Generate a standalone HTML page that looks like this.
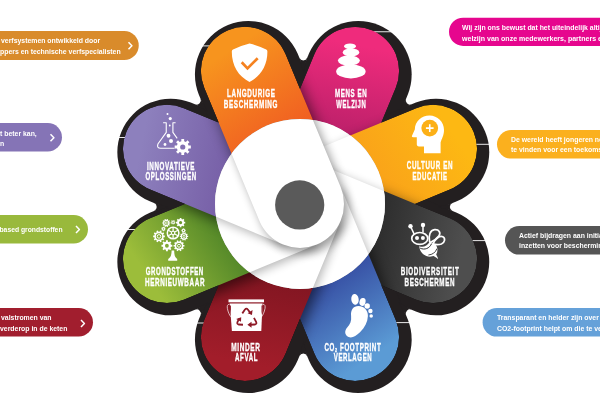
<!DOCTYPE html>
<html><head><meta charset="utf-8"><title>Duurzaamheid</title>
<style>
html,body{margin:0;padding:0;background:#fff;}
body{width:600px;height:400px;overflow:hidden;font-family:"Liberation Sans",sans-serif;}
svg{display:block;}
text{font-family:"Liberation Sans",sans-serif;font-weight:bold;fill:#fff;}
</style></head><body>
<svg width="600" height="400" viewBox="0 0 600 400">
<defs><linearGradient id="g_pink" gradientUnits="userSpaceOnUse" x1="365.2" y1="46.5" x2="338.3" y2="178.8"><stop offset="0" stop-color="#ef2b7c"/><stop offset="1" stop-color="#a31b61"/></linearGradient>
<linearGradient id="g_yellow" gradientUnits="userSpaceOnUse" x1="457.4" y1="138.7" x2="344.9" y2="213.2"><stop offset="0" stop-color="#fdb813"/><stop offset="1" stop-color="#f8981d"/></linearGradient>
<linearGradient id="g_dark" gradientUnits="userSpaceOnUse" x1="457.4" y1="269.1" x2="325.1" y2="242.2"><stop offset="0" stop-color="#4e4e4e"/><stop offset="1" stop-color="#1b1b1b"/></linearGradient>
<linearGradient id="g_blue" gradientUnits="userSpaceOnUse" x1="365.2" y1="361.3" x2="290.7" y2="248.8"><stop offset="0" stop-color="#5b9bd5"/><stop offset="1" stop-color="#24288a"/></linearGradient>
<linearGradient id="g_red" gradientUnits="userSpaceOnUse" x1="234.8" y1="361.3" x2="261.7" y2="229.0"><stop offset="0" stop-color="#a21d2a"/><stop offset="1" stop-color="#72121d"/></linearGradient>
<linearGradient id="g_green" gradientUnits="userSpaceOnUse" x1="142.6" y1="269.1" x2="255.1" y2="194.6"><stop offset="0" stop-color="#9cbd3a"/><stop offset="1" stop-color="#2b6a1f"/></linearGradient>
<linearGradient id="g_purple" gradientUnits="userSpaceOnUse" x1="142.6" y1="138.7" x2="274.9" y2="165.6"><stop offset="0" stop-color="#8d80bd"/><stop offset="1" stop-color="#6c4f9c"/></linearGradient>
<linearGradient id="g_orange" gradientUnits="userSpaceOnUse" x1="234.8" y1="46.5" x2="309.3" y2="159.0"><stop offset="0" stop-color="#f7941e"/><stop offset="1" stop-color="#ee4e23"/></linearGradient>
<clipPath id="cp_union"><path d="M259.35,187.06 L314.46,54.02 A44.00,44.00 0 0 1 395.76,87.70 L340.65,220.74 Z"/><path d="M283.16,163.25 L416.20,108.14 A44.00,44.00 0 0 1 449.88,189.44 L316.84,244.55 Z"/><path d="M316.84,163.25 L449.88,218.36 A44.00,44.00 0 0 1 416.20,299.66 L283.16,244.55 Z"/><path d="M340.65,187.06 L395.76,320.10 A44.00,44.00 0 0 1 314.46,353.78 L259.35,220.74 Z"/><path d="M340.65,220.74 L285.54,353.78 A44.00,44.00 0 0 1 204.24,320.10 L259.35,187.06 Z"/><path d="M316.84,244.55 L183.80,299.66 A44.00,44.00 0 0 1 150.12,218.36 L283.16,163.25 Z"/><path d="M283.16,244.55 L150.12,189.44 A44.00,44.00 0 0 1 183.80,108.14 L316.84,163.25 Z"/><path d="M259.35,220.74 L204.24,87.70 A44.00,44.00 0 0 1 285.54,54.02 L340.65,187.06 Z"/></clipPath>
<filter id="pbl" x="-50%" y="-50%" width="200%" height="200%"><feGaussianBlur stdDeviation="7"/></filter>
<clipPath id="cp_white"><circle cx="300.0" cy="203.9" r="85.0"/></clipPath>
<filter id="bl" x="-50%" y="-50%" width="200%" height="200%"><feGaussianBlur stdDeviation="5"/></filter>
<filter id="bl2" x="-50%" y="-50%" width="200%" height="200%"><feGaussianBlur stdDeviation="4"/></filter></defs>
<g fill="#231f20" transform="translate(3.3,3.1)"><path d="M250.57,183.43 L305.68,50.39 A53.50,53.50 0 0 1 404.53,91.33 L349.43,224.37 Z"/><path d="M279.53,154.47 L412.57,99.37 A53.50,53.50 0 0 1 453.51,198.22 L320.47,253.33 Z"/><path d="M320.47,154.47 L453.51,209.58 A53.50,53.50 0 0 1 412.57,308.43 L279.53,253.33 Z"/><path d="M349.43,183.43 L404.53,316.47 A53.50,53.50 0 0 1 305.68,357.41 L250.57,224.37 Z"/><path d="M349.43,224.37 L294.32,357.41 A53.50,53.50 0 0 1 195.47,316.47 L250.57,183.43 Z"/><path d="M320.47,253.33 L187.43,308.43 A53.50,53.50 0 0 1 146.49,209.58 L279.53,154.47 Z"/><path d="M279.53,253.33 L146.49,198.22 A53.50,53.50 0 0 1 187.43,99.37 L320.47,154.47 Z"/><path d="M250.57,224.37 L195.47,91.33 A53.50,53.50 0 0 1 294.32,50.39 L349.43,183.43 Z"/><path d="M434.80,203.90 L449.17,200.02 A4.20,4.20 0 0 0 449.17,207.78 Z"/><path d="M395.32,299.22 L408.22,306.64 A4.20,4.20 0 0 0 402.74,312.12 Z"/><path d="M300.00,338.70 L303.88,353.07 A4.20,4.20 0 0 0 296.12,353.07 Z"/><path d="M204.68,299.22 L197.26,312.12 A4.20,4.20 0 0 0 191.78,306.64 Z"/><path d="M165.20,203.90 L150.83,207.78 A4.20,4.20 0 0 0 150.83,200.02 Z"/><path d="M204.68,108.58 L191.78,101.16 A4.20,4.20 0 0 0 197.26,95.68 Z"/><path d="M300.00,69.10 L296.12,54.73 A4.20,4.20 0 0 0 303.88,54.73 Z"/><path d="M395.32,108.58 L402.74,95.68 A4.20,4.20 0 0 0 408.22,101.16 Z"/></g>
<g stroke="#ffffff" stroke-width="0.9" fill="none"><path d="M130,45.9 H215 M55,137.5 H135 M80,229.5 H145 M85,323 H215 M455,31.75 H368 M500,144.3 H468 M510,240.6 H462 M490,322.6 H388"/></g>
<g clip-path="url(#cp_union)"><path d="M259.35,187.06 L314.46,54.02 A44.00,44.00 0 0 1 395.76,87.70 L340.65,220.74 Z" fill="url(#g_pink)"/><path d="M283.16,163.25 L416.20,108.14 A44.00,44.00 0 0 1 449.88,189.44 L316.84,244.55 Z" fill="#000" opacity="0.55" filter="url(#pbl)" transform="translate(4,5)"/><path d="M283.16,163.25 L416.20,108.14 A44.00,44.00 0 0 1 449.88,189.44 L316.84,244.55 Z" fill="url(#g_yellow)"/><path d="M316.84,163.25 L449.88,218.36 A44.00,44.00 0 0 1 416.20,299.66 L283.16,244.55 Z" fill="#000" opacity="0.55" filter="url(#pbl)" transform="translate(4,5)"/><path d="M316.84,163.25 L449.88,218.36 A44.00,44.00 0 0 1 416.20,299.66 L283.16,244.55 Z" fill="url(#g_dark)"/><path d="M340.65,187.06 L395.76,320.10 A44.00,44.00 0 0 1 314.46,353.78 L259.35,220.74 Z" fill="#000" opacity="0.55" filter="url(#pbl)" transform="translate(4,5)"/><path d="M340.65,187.06 L395.76,320.10 A44.00,44.00 0 0 1 314.46,353.78 L259.35,220.74 Z" fill="url(#g_blue)"/><path d="M340.65,220.74 L285.54,353.78 A44.00,44.00 0 0 1 204.24,320.10 L259.35,187.06 Z" fill="#000" opacity="0.55" filter="url(#pbl)" transform="translate(4,5)"/><path d="M340.65,220.74 L285.54,353.78 A44.00,44.00 0 0 1 204.24,320.10 L259.35,187.06 Z" fill="url(#g_red)"/><path d="M316.84,244.55 L183.80,299.66 A44.00,44.00 0 0 1 150.12,218.36 L283.16,163.25 Z" fill="#000" opacity="0.55" filter="url(#pbl)" transform="translate(4,5)"/><path d="M316.84,244.55 L183.80,299.66 A44.00,44.00 0 0 1 150.12,218.36 L283.16,163.25 Z" fill="url(#g_green)"/><path d="M283.16,244.55 L150.12,189.44 A44.00,44.00 0 0 1 183.80,108.14 L316.84,163.25 Z" fill="#000" opacity="0.55" filter="url(#pbl)" transform="translate(4,5)"/><path d="M283.16,244.55 L150.12,189.44 A44.00,44.00 0 0 1 183.80,108.14 L316.84,163.25 Z" fill="url(#g_purple)"/><path d="M259.35,220.74 L204.24,87.70 A44.00,44.00 0 0 1 285.54,54.02 L340.65,187.06 Z" fill="#000" opacity="0.55" filter="url(#pbl)" transform="translate(4,5)"/><path d="M259.35,220.74 L204.24,87.70 A44.00,44.00 0 0 1 285.54,54.02 L340.65,187.06 Z" fill="url(#g_orange)"/></g>
<g clip-path="url(#cp_white)"><circle cx="300.0" cy="203.9" r="85.0" fill="#fff"/><path d="M259.35,187.06 L335.89,2.29 A44.00,44.00 0 0 1 417.19,35.96 L340.65,220.74 Z" fill="#000" opacity="0.28" filter="url(#bl)" transform="translate(2,3)"/><path d="M259.35,187.06 L335.89,2.29 A44.00,44.00 0 0 1 417.19,35.96 L340.65,220.74 Z" fill="#fff"/><path d="M283.16,163.25 L467.94,86.71 A44.00,44.00 0 0 1 501.61,168.01 L316.84,244.55 Z" fill="#000" opacity="0.28" filter="url(#bl)" transform="translate(2,3)"/><path d="M283.16,163.25 L467.94,86.71 A44.00,44.00 0 0 1 501.61,168.01 L316.84,244.55 Z" fill="#fff"/><path d="M316.84,163.25 L501.61,239.79 A44.00,44.00 0 0 1 467.94,321.09 L283.16,244.55 Z" fill="#000" opacity="0.28" filter="url(#bl)" transform="translate(2,3)"/><path d="M316.84,163.25 L501.61,239.79 A44.00,44.00 0 0 1 467.94,321.09 L283.16,244.55 Z" fill="#fff"/><path d="M340.65,187.06 L417.19,371.84 A44.00,44.00 0 0 1 335.89,405.51 L259.35,220.74 Z" fill="#000" opacity="0.28" filter="url(#bl)" transform="translate(2,3)"/><path d="M340.65,187.06 L417.19,371.84 A44.00,44.00 0 0 1 335.89,405.51 L259.35,220.74 Z" fill="#fff"/><path d="M340.65,220.74 L264.11,405.51 A44.00,44.00 0 0 1 182.81,371.84 L259.35,187.06 Z" fill="#000" opacity="0.28" filter="url(#bl)" transform="translate(2,3)"/><path d="M340.65,220.74 L264.11,405.51 A44.00,44.00 0 0 1 182.81,371.84 L259.35,187.06 Z" fill="#fff"/><path d="M316.84,244.55 L132.06,321.09 A44.00,44.00 0 0 1 98.39,239.79 L283.16,163.25 Z" fill="#000" opacity="0.28" filter="url(#bl)" transform="translate(2,3)"/><path d="M316.84,244.55 L132.06,321.09 A44.00,44.00 0 0 1 98.39,239.79 L283.16,163.25 Z" fill="#fff"/><path d="M283.16,244.55 L98.39,168.01 A44.00,44.00 0 0 1 132.06,86.71 L316.84,163.25 Z" fill="#000" opacity="0.28" filter="url(#bl)" transform="translate(2,3)"/><path d="M283.16,244.55 L98.39,168.01 A44.00,44.00 0 0 1 132.06,86.71 L316.84,163.25 Z" fill="#fff"/><path d="M259.35,220.74 L182.81,35.96 A44.00,44.00 0 0 1 264.11,2.29 L340.65,187.06 A44.00,44.00 0 0 1 259.35,220.74 Z" fill="#000" opacity="0.38" filter="url(#bl)" transform="translate(4,5)"/><path d="M259.35,220.74 L182.81,35.96 A44.00,44.00 0 0 1 264.11,2.29 L340.65,187.06 A44.00,44.00 0 0 1 259.35,220.74 Z" fill="#fff"/></g>
<circle cx="299.7" cy="204.9" r="24.6" fill="#5a5a5a"/>
<g>
<rect x="-20" y="31" width="158.75" height="29" rx="14.5" fill="#d98b2b"/>
<rect x="-20" y="123" width="82" height="28.5" rx="14.25" fill="#8574b6"/>
<rect x="-20" y="215" width="108" height="28.5" rx="14.25" fill="#99b93c"/>
<rect x="-20" y="308" width="113" height="28.5" rx="14.25" fill="#a11e2e"/>
<rect x="449" y="17.7" width="180" height="28.2" rx="14.1" fill="#e6068e"/>
<rect x="497" y="130" width="140" height="28.6" rx="14.3" fill="#fbb01e"/>
<rect x="505" y="226" width="140" height="28.6" rx="14.3" fill="#555555"/>
<rect x="482.6" y="308" width="160" height="28.6" rx="14.3" fill="#65a1d9"/>
<g fill="none" stroke="#fff" stroke-width="1.5" stroke-linecap="butt" stroke-linejoin="round">
<path d="M128.5,42.3 l3.4,3.5 l-3.4,3.5"/>
<path d="M50.5,134.3 l3.4,3.5 l-3.4,3.5"/>
<path d="M76,226 l3.4,3.5 l-3.4,3.5"/>
<path d="M81,320 l3.4,3.5 l-3.4,3.5"/>
</g>
<g font-size="6.9" opacity="0.999">
<text x="1" y="43">verfsystemen ontwikkeld door</text>
<text x="0" y="53.75">ppers en technische verfspecialisten</text>
<text x="0" y="135.75">t beter kan,</text>
<text x="0" y="145.5">n</text>
<text x="-0.5" y="232.3" font-size="6.75">based grondstoffen</text>
<text x="1" y="320.25">valstromen van</text>
<text x="0" y="330.5">verderop in de keten</text>
<text x="462" y="29.5">Wij zijn ons bewust dat het uiteindelijk altijd</text>
<text x="462" y="40.5" font-size="7.04">welzijn van onze medewerkers, partners en</text>
<text x="511" y="142">De wereld heeft jongeren nodig</text>
<text x="511" y="152">te vinden voor een toekomst</text>
<text x="519" y="238">Actief bijdragen aan initiatieven</text>
<text x="519" y="248.4">inzetten voor bescherming</text>
<text x="497" y="320.4">Transparant en helder zijn over onze</text>
<text x="497" y="330.8">CO2-footprint helpt om die te verlagen</text>
</g>
</g>

<path d="M249.5,43.6 Q258.5,45.8 266.2,49.6 Q267.4,50.1 267.4,51.6 C267.4,66 260.5,76.5 249.5,82 C238.5,76.5 231.8,66 231.8,51.6 Q231.8,50.1 233,49.6 Q240.5,45.8 249.5,43.6 Z" fill="#fff"/>
<path d="M241.7,62.3 L247.5,68.4 L257.7,58.2" fill="none" stroke="#f58220" stroke-width="2.7"/>
<ellipse cx="350.0" cy="46.3" rx="6.0" ry="2.9" fill="#fff"/>
<ellipse cx="351.0" cy="52.4" rx="8.3" ry="4.0" fill="#fff"/>
<ellipse cx="348.9" cy="60.6" rx="11.0" ry="5.1" fill="#fff"/>
<ellipse cx="350.9" cy="71.4" rx="14.7" ry="7.0" fill="#fff"/>
<path d="M429.5,115.6 C437.5,115.6 444,122 444,130 C444,135.5 441.5,139 440.6,142.5 L440.6,153.2 L424,153.2 L424,146.4 L419,146.4 C417.5,146.4 416.8,145.6 416.8,144.2 L416.8,137.2 L413,137.2 C412,137.2 411.6,136.4 412.1,135.5 L414.8,129.5 C415,121.5 421.5,115.6 429.5,115.6 Z" fill="#fff"/>
<circle cx="429.75" cy="128.10" r="8.40" fill="#fcb017"/>
<path d="M425.9,128.1 h7.7 M429.75,124.25 v7.7" stroke="#fff" stroke-width="1.6" fill="none"/>
<g fill="none" stroke="#fff" stroke-width="1.7" stroke-linecap="round"><path d="M410.5,226.2 L413.8,233.4 M423,225 L423,232" stroke-width="1.5"/><ellipse cx="419.75" cy="238.4" rx="8.0" ry="5.9"/><path d="M429.6,241.6 C428.3,235.5 430.2,230.2 434.6,229.7 C439,229.3 441.2,232.6 438.8,236 C436.6,239 433.2,241 430.2,242.6"/><path d="M433.2,243.4 C435.6,238.6 439.6,235.4 442.8,236.8 C445.6,238.2 445,242.4 441.4,244 C438.8,245 435.8,244.8 433.2,244.2"/></g><circle cx="410.50" cy="226.20" r="2.20" fill="#fff"/><circle cx="423.00" cy="225.00" r="2.20" fill="#fff"/><circle cx="417.00" cy="238.00" r="2.00" fill="#fff"/><circle cx="422.90" cy="238.00" r="2.00" fill="#fff"/><path d="M419.2,246 C419.8,252.6 424.6,257 431,256.6 L433.6,256 L438.4,259 L436.2,254.6 C438.2,251 438,246.4 434.4,243.4 L429.6,242 C427,246.2 423,247.8 419.4,246.2 Z" fill="#fff"/><path d="M420.2,248.2 C424.5,250.2 429.5,248.6 431.6,243.6" fill="none" stroke="#2d2d2d" stroke-width="1.0"/><path d="M428.4,255 C432.4,254.6 435.6,252.6 436.9,248.6" fill="none" stroke="#2d2d2d" stroke-width="0.9"/>
<path d="M358.5,306 C363.5,306 368.2,310 367.9,316 C367.6,322 365,327.5 360,332.3 C356,336.2 352,338.3 348.6,337 C344.6,335.4 344.2,331 347.2,327.6 C350.2,324.2 351.6,321 351.1,316 C350.5,310 353.2,306 358.5,306 Z" fill="#fff"/>
<ellipse cx="355" cy="299.4" rx="3.7" ry="5.4" fill="#fff" transform="rotate(-8 355 299.4)"/>
<ellipse cx="362.5" cy="301.9" rx="3.0" ry="4.0" fill="#fff" transform="rotate(15 362.5 301.9)"/>
<circle cx="367.20" cy="306.00" r="2.70" fill="#fff"/>
<circle cx="370.40" cy="311.00" r="2.20" fill="#fff"/>
<circle cx="371.20" cy="315.90" r="1.75" fill="#fff"/>
<rect x="228.5" y="299.4" width="35.5" height="2.9" fill="#fff"/>
<path d="M229.8,303.6 L262.5,303.6 L261.3,331 L231.9,331 Z" fill="#fff"/>
<path d="M229.6,304.2 C227.2,304.4 227,306 227.4,308.5 C228,312 229.5,315 230.8,316.8 M262.8,304.2 C265.2,304.4 265.4,306 265,308.5 C264.4,312 262.9,315 261.6,316.8" fill="none" stroke="#fff" stroke-width="0.7"/>
<path d="M229.4,305.5 L230.9,305.5 L230.9,315 Z M263,305.5 L261.5,305.5 L261.5,315 Z" fill="#8e1926"/>
<g transform="translate(246.6,317.8) scale(1.1,1.14) translate(-246.5,-316.5)"><g fill="none" stroke="#8e1926" stroke-width="1.6" stroke-linejoin="round">
<path d="M242.6,312.6 L245,309.2 Q246.3,307.6 247.6,309.2 L250,312.4"/>
<path d="M253.2,316.6 L255.2,320.2 Q256,322 254,322.4 L249.8,322.6"/>
<path d="M243.2,322.6 L239.4,322.4 Q237.4,322 238.2,320.2 L239.8,317.2"/>
</g>
<path d="M251.9,309.6 L251.4,314 L247.4,312.4 Z M251,319.9 L251,325.3 L247.2,322.6 Z M237,317.6 L241.6,316 L241.4,320 Z" fill="#8e1926"/></g>
<circle cx="173.10" cy="233.00" r="5.80" fill="none" stroke="#fff" stroke-width="1.50"/>
<circle cx="173.10" cy="233.00" r="1.70" fill="none" stroke="#fff" stroke-width="1.10"/>
<path d="M174.83,234.00 L177.86,235.75 M173.10,235.00 L173.10,238.50 M171.37,234.00 L168.34,235.75 M171.37,232.00 L168.34,230.25 M173.10,231.00 L173.10,227.50 M174.83,232.00 L177.86,230.25" stroke="#fff" stroke-width="1.25" fill="none"/>
<path d="M170.31,222.44 L170.31,223.56 L169.39,223.60 L169.15,224.36 L169.87,224.93 L169.20,225.84 L168.44,225.33 L167.79,225.80 L168.04,226.69 L166.97,227.04 L166.65,226.17 L165.85,226.17 L165.53,227.04 L164.46,226.69 L164.71,225.80 L164.06,225.33 L163.30,225.84 L162.63,224.93 L163.35,224.36 L163.11,223.60 L162.19,223.56 L162.19,222.44 L163.11,222.40 L163.35,221.64 L162.63,221.07 L163.30,220.16 L164.06,220.67 L164.71,220.20 L164.46,219.31 L165.53,218.96 L165.85,219.83 L166.65,219.83 L166.97,218.96 L168.04,219.31 L167.79,220.20 L168.44,220.67 L169.20,220.16 L169.87,221.07 L169.15,221.64 L169.39,222.40 Z M164.25,223.00 a2.00,2.00 0 1 0 4.00,0 a2.00,2.00 0 1 0 -4.00,0 Z" fill="#fff" fill-rule="evenodd"/>
<circle cx="166.25" cy="223.00" r="1.10" fill="none" stroke="#fff" stroke-width="0.80"/>
<path d="M175.37,221.85 L175.37,222.65 L174.66,222.62 L174.46,223.09 L174.98,223.57 L174.42,224.13 L173.94,223.61 L173.47,223.81 L173.50,224.52 L172.70,224.52 L172.73,223.81 L172.26,223.61 L171.78,224.13 L171.22,223.57 L171.74,223.09 L171.54,222.62 L170.83,222.65 L170.83,221.85 L171.54,221.88 L171.74,221.41 L171.22,220.93 L171.78,220.37 L172.26,220.89 L172.73,220.69 L172.70,219.98 L173.50,219.98 L173.47,220.69 L173.94,220.89 L174.42,220.37 L174.98,220.93 L174.46,221.41 L174.66,221.88 Z M172.40,222.25 a0.70,0.70 0 1 0 1.40,0 a0.70,0.70 0 1 0 -1.40,0 Z" fill="#fff" fill-rule="evenodd"/>
<path d="M185.23,221.79 L185.23,223.41 L184.10,223.44 L183.67,224.48 L184.45,225.30 L183.30,226.45 L182.48,225.67 L181.44,226.10 L181.41,227.23 L179.79,227.23 L179.76,226.10 L178.72,225.67 L177.90,226.45 L176.75,225.30 L177.53,224.48 L177.10,223.44 L175.97,223.41 L175.97,221.79 L177.10,221.76 L177.53,220.72 L176.75,219.90 L177.90,218.75 L178.72,219.53 L179.76,219.10 L179.79,217.97 L181.41,217.97 L181.44,219.10 L182.48,219.53 L183.30,218.75 L184.45,219.90 L183.67,220.72 L184.10,221.76 Z M179.00,222.60 a1.60,1.60 0 1 0 3.20,0 a1.60,1.60 0 1 0 -3.20,0 Z" fill="#fff" fill-rule="evenodd"/>
<path d="M165.67,228.50 L165.67,229.30 L164.96,229.27 L164.76,229.74 L165.28,230.22 L164.72,230.78 L164.24,230.26 L163.77,230.46 L163.80,231.17 L163.00,231.17 L163.03,230.46 L162.56,230.26 L162.08,230.78 L161.52,230.22 L162.04,229.74 L161.84,229.27 L161.13,229.30 L161.13,228.50 L161.84,228.53 L162.04,228.06 L161.52,227.58 L162.08,227.02 L162.56,227.54 L163.03,227.34 L163.00,226.63 L163.80,226.63 L163.77,227.34 L164.24,227.54 L164.72,227.02 L165.28,227.58 L164.76,228.06 L164.96,228.53 Z M162.70,228.90 a0.70,0.70 0 1 0 1.40,0 a0.70,0.70 0 1 0 -1.40,0 Z" fill="#fff" fill-rule="evenodd"/>
<path d="M185.77,230.10 L185.77,230.90 L185.06,230.87 L184.86,231.34 L185.38,231.82 L184.82,232.38 L184.34,231.86 L183.87,232.06 L183.90,232.77 L183.10,232.77 L183.13,232.06 L182.66,231.86 L182.18,232.38 L181.62,231.82 L182.14,231.34 L181.94,230.87 L181.23,230.90 L181.23,230.10 L181.94,230.13 L182.14,229.66 L181.62,229.18 L182.18,228.62 L182.66,229.14 L183.13,228.94 L183.10,228.23 L183.90,228.23 L183.87,228.94 L184.34,229.14 L184.82,228.62 L185.38,229.18 L184.86,229.66 L185.06,230.13 Z M182.80,230.50 a0.70,0.70 0 1 0 1.40,0 a0.70,0.70 0 1 0 -1.40,0 Z" fill="#fff" fill-rule="evenodd"/>
<path d="M164.84,235.59 L164.84,237.21 L163.62,237.28 L163.25,238.40 L164.21,239.18 L163.25,240.49 L162.22,239.83 L161.26,240.52 L161.58,241.71 L160.03,242.21 L159.59,241.06 L158.41,241.06 L157.97,242.21 L156.42,241.71 L156.74,240.52 L155.78,239.83 L154.75,240.49 L153.79,239.18 L154.75,238.40 L154.38,237.28 L153.16,237.21 L153.16,235.59 L154.38,235.52 L154.75,234.40 L153.79,233.62 L154.75,232.31 L155.78,232.97 L156.74,232.28 L156.42,231.09 L157.97,230.59 L158.41,231.74 L159.59,231.74 L160.03,230.59 L161.58,231.09 L161.26,232.28 L162.22,232.97 L163.25,232.31 L164.21,233.62 L163.25,234.40 L163.62,235.52 Z M155.90,236.40 a3.10,3.10 0 1 0 6.20,0 a3.10,3.10 0 1 0 -6.20,0 Z" fill="#fff" fill-rule="evenodd"/>
<circle cx="159.00" cy="236.40" r="1.80" fill="none" stroke="#fff" stroke-width="1.00"/>
<path d="M188.16,235.82 L188.16,236.98 L187.24,237.02 L186.99,237.81 L187.71,238.38 L187.03,239.31 L186.26,238.81 L185.59,239.29 L185.84,240.18 L184.74,240.54 L184.41,239.67 L183.59,239.67 L183.26,240.54 L182.16,240.18 L182.41,239.29 L181.74,238.81 L180.97,239.31 L180.29,238.38 L181.01,237.81 L180.76,237.02 L179.84,236.98 L179.84,235.82 L180.76,235.78 L181.01,234.99 L180.29,234.42 L180.97,233.49 L181.74,233.99 L182.41,233.51 L182.16,232.62 L183.26,232.26 L183.59,233.13 L184.41,233.13 L184.74,232.26 L185.84,232.62 L185.59,233.51 L186.26,233.99 L187.03,233.49 L187.71,234.42 L186.99,234.99 L187.24,235.78 Z M181.90,236.40 a2.10,2.10 0 1 0 4.20,0 a2.10,2.10 0 1 0 -4.20,0 Z" fill="#fff" fill-rule="evenodd"/>
<circle cx="184.00" cy="236.40" r="1.10" fill="none" stroke="#fff" stroke-width="0.90"/>
<path d="M172.32,244.80 L172.32,246.70 L170.98,246.73 L170.48,247.94 L171.40,248.91 L170.06,250.25 L169.09,249.33 L167.88,249.83 L167.85,251.17 L165.95,251.17 L165.92,249.83 L164.71,249.33 L163.74,250.25 L162.40,248.91 L163.32,247.94 L162.82,246.73 L161.48,246.70 L161.48,244.80 L162.82,244.77 L163.32,243.56 L162.40,242.59 L163.74,241.25 L164.71,242.17 L165.92,241.67 L165.95,240.33 L167.85,240.33 L167.88,241.67 L169.09,242.17 L170.06,241.25 L171.40,242.59 L170.48,243.56 L170.98,244.77 Z M165.00,245.75 a1.90,1.90 0 1 0 3.80,0 a1.90,1.90 0 1 0 -3.80,0 Z" fill="#fff" fill-rule="evenodd"/>
<path d="M184.45,244.99 L184.45,246.51 L183.32,246.57 L182.98,247.62 L183.85,248.34 L182.96,249.57 L182.01,248.96 L181.12,249.61 L181.40,250.70 L179.96,251.17 L179.55,250.12 L178.45,250.12 L178.04,251.17 L176.60,250.70 L176.88,249.61 L175.99,248.96 L175.04,249.57 L174.15,248.34 L175.02,247.62 L174.68,246.57 L173.55,246.51 L173.55,244.99 L174.68,244.93 L175.02,243.88 L174.15,243.16 L175.04,241.93 L175.99,242.54 L176.88,241.89 L176.60,240.80 L178.04,240.33 L178.45,241.38 L179.55,241.38 L179.96,240.33 L181.40,240.80 L181.12,241.89 L182.01,242.54 L182.96,241.93 L183.85,243.16 L182.98,243.88 L183.32,244.93 Z M176.20,245.75 a2.80,2.80 0 1 0 5.60,0 a2.80,2.80 0 1 0 -5.60,0 Z" fill="#fff" fill-rule="evenodd"/>
<circle cx="179.00" cy="245.75" r="1.50" fill="none" stroke="#fff" stroke-width="1.00"/>
<path d="M171.6,250.6 L174.2,250.6 C174.2,255 175,257.5 177.2,259 L177.2,260.8 L168.2,260.8 L168.2,259 C170.6,257.5 171.6,255 171.6,250.6 Z" fill="#fff"/>
<path d="M163.1,122.75 L166.25,122.75 L166.25,132.4 L157.9,144 Q156.6,148.3 160.6,148.3 L174.5,148.3 M175.6,122.75 L172.9,122.75 L172.9,132.4 L177.2,138.4" fill="none" stroke="#fff" stroke-width="1.1" stroke-linejoin="round"/>
<circle cx="167.50" cy="114.00" r="1.00" fill="#fff"/>
<circle cx="170.25" cy="118.60" r="1.60" fill="#fff"/>
<circle cx="169.75" cy="125.50" r="0.90" fill="#fff"/>
<circle cx="168.50" cy="135.75" r="1.90" fill="#fff"/>
<circle cx="171.00" cy="141.10" r="2.00" fill="#fff"/>
<circle cx="165.00" cy="144.50" r="1.40" fill="#fff"/>
<path d="M190.83,145.59 L190.83,148.41 L188.58,148.40 L187.87,150.13 L189.46,151.72 L187.47,153.71 L185.88,152.12 L184.15,152.83 L184.16,155.08 L181.34,155.08 L181.35,152.83 L179.62,152.12 L178.03,153.71 L176.04,151.72 L177.63,150.13 L176.92,148.40 L174.67,148.41 L174.67,145.59 L176.92,145.60 L177.63,143.87 L176.04,142.28 L178.03,140.29 L179.62,141.88 L181.35,141.17 L181.34,138.92 L184.16,138.92 L184.15,141.17 L185.88,141.88 L187.47,140.29 L189.46,142.28 L187.87,143.87 L188.58,145.60 Z M180.15,147.00 a2.60,2.60 0 1 0 5.20,0 a2.60,2.60 0 1 0 -5.20,0 Z" fill="#fff" fill-rule="evenodd"/>
<g font-size="10.1" stroke="#fff" stroke-width="0.35" letter-spacing="1" opacity="0.999">
<text x="227" y="97" textLength="48.60" lengthAdjust="spacingAndGlyphs">LANGDURIGE</text>
<text x="223.75" y="107.5" textLength="54.35" lengthAdjust="spacingAndGlyphs">BESCHERMING</text>
<text x="335" y="97" textLength="32.35" lengthAdjust="spacingAndGlyphs">MENS EN</text>
<text x="336.25" y="107.5" textLength="30.10" lengthAdjust="spacingAndGlyphs">WELZIJN</text>
<text x="406.75" y="169.25" textLength="46.35" lengthAdjust="spacingAndGlyphs">CULTUUR EN</text>
<text x="412.5" y="180" textLength="35.10" lengthAdjust="spacingAndGlyphs">EDUCATIE</text>
<text x="400.75" y="275" textLength="58.60" lengthAdjust="spacingAndGlyphs">BIODIVERSITEIT</text>
<text x="404.5" y="285.5" textLength="50.60" lengthAdjust="spacingAndGlyphs">BESCHERMEN</text>
<text x="324.5" y="350.75" textLength="56.85" lengthAdjust="spacingAndGlyphs">CO<tspan font-size="6" dy="1">2</tspan><tspan dy="-1"> FOOTPRINT</tspan></text>
<text x="333.75" y="361.25" textLength="38.60" lengthAdjust="spacingAndGlyphs">VERLAGEN</text>
<text x="231.25" y="350.75" textLength="29.35" lengthAdjust="spacingAndGlyphs">MINDER</text>
<text x="235" y="361.25" textLength="23.10" lengthAdjust="spacingAndGlyphs">AFVAL</text>
<text x="145.75" y="275" textLength="58.10" lengthAdjust="spacingAndGlyphs">GRONDSTOFFEN</text>
<text x="145" y="285.5" textLength="60.10" lengthAdjust="spacingAndGlyphs">HERNIEUWBAAR</text>
<text x="147" y="169.5" textLength="48.10" lengthAdjust="spacingAndGlyphs">INNOVATIEVE</text>
<text x="145.5" y="179.5" textLength="51.35" lengthAdjust="spacingAndGlyphs">OPLOSSINGEN</text>
</g>

</svg>
</body></html>
